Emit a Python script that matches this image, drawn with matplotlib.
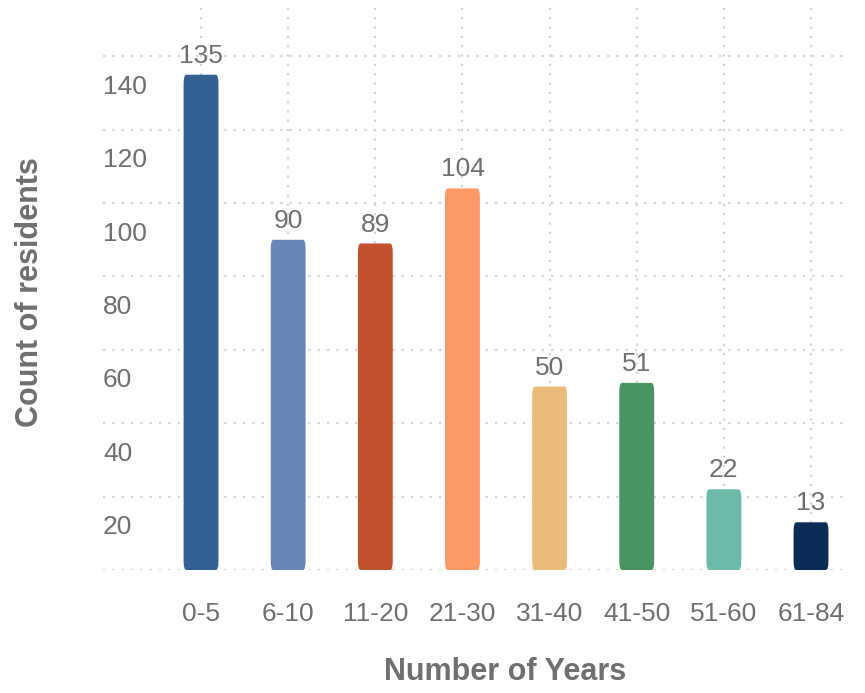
import matplotlib
matplotlib.use("Agg")
import matplotlib.pyplot as plt
from matplotlib.transforms import ScaledTranslation
from matplotlib.patches import FancyBboxPatch

categories = ["0-5", "6-10", "11-20", "21-30", "31-40", "41-50", "51-60", "61-84"]
counts = [135, 90, 89, 104, 50, 51, 22, 13]
bar_colors = ["#335f93", "#6687b7", "#c1522f", "#fd9966",
              "#ebbb79", "#4a9461", "#6cbaa9", "#0a2c55"]
y_ticks = [20, 40, 60, 80, 100, 120, 140]

plt.rcParams["font.family"] = ["Liberation Sans", "DejaVu Sans"]
TEXT = "#6f6f6f"
GRID = "#d4d4d4"

W, H = 865, 693
fig = plt.figure(figsize=(W / 100, H / 100), dpi=100)
ax = fig.add_axes([103 / W, 1 - 570 / H, (845 - 103) / W, (570 - 5) / H])

x = list(range(len(categories)))
bars = ax.bar(x, counts, width=0.4, color=bar_colors, zorder=3)

# soften the top corners of each bar
for rect, c in zip(bars, bar_colors):
    rect.set_visible(False)
    bx, by = rect.get_x(), rect.get_y()
    bw, bh = rect.get_width(), rect.get_height()
    patch = FancyBboxPatch((bx, by), bw, bh,
                           boxstyle="round,pad=0,rounding_size=0.03",
                           mutation_aspect=80,
                           facecolor=c, edgecolor="none", zorder=3)
    ax.add_patch(patch)

for xi, v in zip(x, counts):
    ax.annotate(str(v), (xi, v), xytext=(0, 8.6), textcoords="offset points",
                ha="center", va="baseline", fontsize=19, color=TEXT, zorder=4)

ax.set_xlim(-1.125, 7.39)
ax.set_ylim(0, 154)
ax.set_xticks(x)
ax.set_xticklabels(categories)
ax.set_yticks([0] + y_ticks)
ax.set_yticklabels([""] + [str(t) for t in y_ticks])

ax.grid(True, axis="both", linestyle=(0, (1, 3.2)), linewidth=1.6,
        color=GRID, zorder=0)
ax.set_axisbelow(True)
for s in ax.spines.values():
    s.set_visible(False)

ax.tick_params(axis="x", length=0, pad=23, labelsize=19, labelcolor=TEXT)
ax.tick_params(axis="y", length=0, pad=0, labelsize=19, labelcolor=TEXT)

shift = ScaledTranslation(0, -28 / 100, fig.dpi_scale_trans)
for lab in ax.get_yticklabels():
    lab.set_horizontalalignment("left")
    lab.set_transform(lab.get_transform() + shift)

fig.text(505 / W, 1 - 672 / H, "Number of Years", ha="center", va="center",
         fontsize=22, fontweight="bold", color=TEXT)
fig.text(30 / W, 1 - 292 / H, "Count of residents", ha="center", va="center",
         rotation=90, fontsize=22, fontweight="bold", color=TEXT)

fig.savefig("out.png", dpi=100, facecolor="white")
